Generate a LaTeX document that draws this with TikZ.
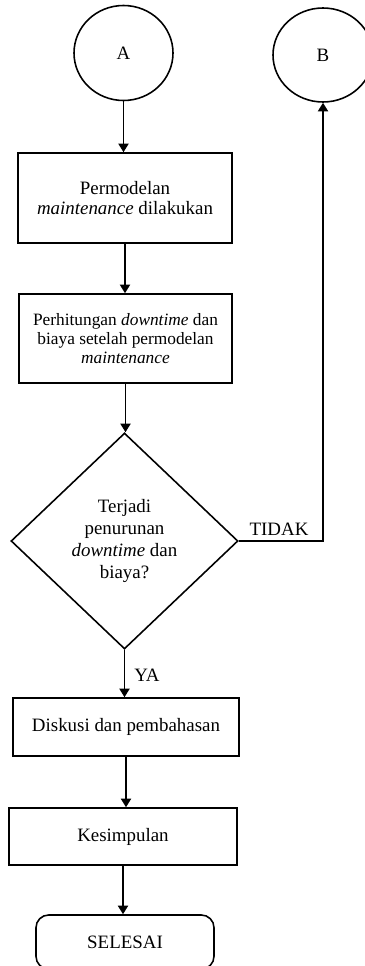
\documentclass[tikz,border=0pt]{standalone}
\usepackage{fontspec}
\setmainfont{Liberation Serif}
\usetikzlibrary{shapes.geometric,arrows.meta}
% one drawing unit
\def\pu{0.6346pt}
\begin{document}
\begin{tikzpicture}[x=0.6346pt,y=-0.6346pt,
  line width=1pt,
  every node/.style={font=\fontsize{12}{13}\selectfont},
  conn/.style={-{Triangle[length=5.5pt,width=6.5pt]}},
  stepbox/.style={draw,rectangle,align=center,inner sep=0pt},
  connector/.style={draw,ellipse,inner sep=0pt},
  decision/.style={draw,diamond,align=center,inner sep=0pt},
  label/.style={inner sep=0pt}
]
\clip (0,0) rectangle (365,966);

% off-page connectors
\node[connector,minimum width=99*\pu,minimum height=95*\pu] (A) at (123.5,53) {A};
\node[connector,minimum width=100*\pu,minimum height=94*\pu] (B) at (323,55) {B};

% process steps
\node[stepbox,minimum width=214*\pu,minimum height=90*\pu,
      font=\fontsize{12}{13.1}\selectfont] (p1) at (125,198)
  {Permodelan\\\textit{maintenance} dilakukan};
\node[stepbox,minimum width=213*\pu,minimum height=89*\pu,
      font=\fontsize{11}{12.1}\selectfont] (p2) at (125.5,338.5)
  {Perhitungan \textit{downtime} dan\\biaya setelah permodelan\\\textit{maintenance}};

% decision
\node[decision,minimum width=227*\pu,minimum height=216*\pu,
      font=\fontsize{12}{13.8}\selectfont] (d) at (124.5,541)
  {Terjadi\\penurunan\\\textit{downtime} dan\\biaya?};

\node[stepbox,minimum width=226*\pu,minimum height=58*\pu] (p3) at (126,727)
  {Diskusi dan pembahasan};
\node[stepbox,minimum width=228*\pu,minimum height=57*\pu] (p4) at (123,836.5)
  {Kesimpulan};

% terminator
\node[stepbox,rounded corners=8pt,minimum width=178*\pu,minimum height=54*\pu] (end) at (125,942)
  {SELESAI};

% flow
\draw[conn] (A.south) -- (A.south |- p1.north);
\draw[conn] (p1.south) -- (p1.south |- p2.north);
\draw[conn] (p2.south) -- (p2.south |- d.north);
\draw[conn] (d.south) -- (d.south |- p3.north);
\draw[conn] (p3.south) -- (p3.south |- p4.north);
\draw[conn] (p4.south) -- (p4.south |- end.north);
\draw[conn] (d.east) -| (B.south);

% branch labels
\node[label] (tidak) at (279,529) {TIDAK};
\node[label] (ya) at (147,675) {YA};
\end{tikzpicture}
\end{document}
